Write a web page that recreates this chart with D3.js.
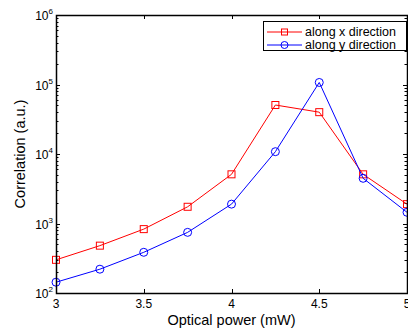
<!DOCTYPE html>
<html><head><meta charset="utf-8">
<script src="https://cdn.jsdelivr.net/npm/d3@7"></script>
<style>body{margin:0;background:#fff}svg{display:block;font-family:"Liberation Sans",Arial,sans-serif}</style>
</head><body>
<script>
const power = [3.0, 3.25, 3.5, 3.75, 4.0, 4.25, 4.5, 4.75, 5.0];
const alongX = [300, 480, 830, 1740, 5100, 50700, 40000, 5100, 1900];
const alongY = [143, 220, 385, 746, 1900, 10800, 107000, 4470, 1450];
const xTicks = [3, 3.5, 4, 4.5, 5];
const yTicks = [2, 3, 4, 5, 6];
const seriesNames = ["along x direction", "along y direction"];

const W = 408, H = 333;
const m = {l: 56, r: 1, t: 15, b: 40};
const svg = d3.select("body").append("svg").attr("width", W).attr("height", H);
const x = d3.scaleLinear().domain([3, 5]).range([m.l, W - m.r]);
const y = d3.scaleLog().domain([100, 1e6]).range([H - m.b, m.t]);

// minor/major ticks
const g = svg.append("g").attr("stroke", "#000").attr("stroke-width", 1);
const minor = [];
for (let e = 2; e < 6; e++) for (let k = 2; k <= 9; k++) minor.push(k * Math.pow(10, e));
minor.forEach(v => {
  const yy = Math.round(y(v)) + 0.5;
  g.append("line").attr("x1", m.l).attr("x2", m.l + 2.5).attr("y1", yy).attr("y2", yy);
  g.append("line").attr("x1", W - m.r).attr("x2", W - m.r - 2.5).attr("y1", yy).attr("y2", yy);
});
yTicks.forEach(e => {
  const yy = Math.round(y(Math.pow(10, e))) + 0.5;
  g.append("line").attr("x1", m.l).attr("x2", m.l + 4).attr("y1", yy).attr("y2", yy);
  g.append("line").attr("x1", W - m.r).attr("x2", W - m.r - 4).attr("y1", yy).attr("y2", yy);
});
xTicks.forEach(v => {
  const xx = Math.round(x(v)) + 0.5;
  g.append("line").attr("x1", xx).attr("x2", xx).attr("y1", H - m.b).attr("y2", H - m.b - 4);
  g.append("line").attr("x1", xx).attr("x2", xx).attr("y1", m.t).attr("y2", m.t + 4);
});

// data lines
const line = d3.line().x((d, i) => x(power[i])).y(d => y(d));
const series = [{v: alongX, c: "#ff0000", m: "sq"}, {v: alongY, c: "#0000ff", m: "ci"}];
series.forEach(s => {
  svg.append("path").attr("d", line(s.v)).attr("fill", "none").attr("stroke", s.c).attr("stroke-width", 1);
  s.v.forEach((d, i) => {
    if (s.m === "sq") svg.append("rect").attr("x", x(power[i]) - 3.5).attr("y", y(d) - 3.5).attr("width", 7).attr("height", 7)
      .attr("fill", "none").attr("stroke", s.c).attr("stroke-width", 1);
    else svg.append("circle").attr("cx", x(power[i])).attr("cy", y(d)).attr("r", 4)
      .attr("fill", "none").attr("stroke", s.c).attr("stroke-width", 1);
  });
});

// frame
svg.append("rect").attr("x", m.l + 0.5).attr("y", m.t + 0.5).attr("width", W - m.r - m.l).attr("height", H - m.b - m.t)
  .attr("fill", "none").attr("stroke", "#000").attr("stroke-width", 1.5);

// tick labels
xTicks.forEach(v => {
  svg.append("text").attr("x", x(v)).attr("y", H - m.b + 15).attr("text-anchor", "middle")
    .attr("font-size", 12).text(String(v));
});
yTicks.forEach(e => {
  const t = svg.append("text").attr("x", 53).attr("y", y(Math.pow(10, e)) + 5).attr("text-anchor", "end").attr("font-size", 12);
  t.append("tspan").text("10");
  t.append("tspan").attr("dy", -6).attr("font-size", 8).text(String(e));
});

// axis titles
svg.append("text").attr("x", x(4)).attr("y", 325).attr("text-anchor", "middle").attr("font-size", 14.5).text("Optical power (mW)");
svg.append("text").attr("transform", `translate(25,${(m.t + H - m.b) / 2}) rotate(-90)`).attr("text-anchor", "middle")
  .attr("font-size", 14.5).text("Correlation (a.u.)");

// legend
const lg = svg.append("g");
lg.append("rect").attr("x", 263.5).attr("y", 21.5).attr("width", 143).attr("height", 29)
  .attr("fill", "#fff").attr("stroke", "#000").attr("stroke-width", 1);
series.forEach((s, i) => {
  const yy = 32 + i * 13;
  lg.append("line").attr("x1", 267).attr("x2", 302).attr("y1", yy).attr("y2", yy).attr("stroke", s.c);
  if (s.m === "sq") lg.append("rect").attr("x", 281.5).attr("y", yy - 3).attr("width", 6).attr("height", 6).attr("fill", "none").attr("stroke", s.c);
  else lg.append("circle").attr("cx", 284.5).attr("cy", yy).attr("r", 3.5).attr("fill", "none").attr("stroke", s.c);
  lg.append("text").attr("x", 305).attr("y", yy + 4).attr("font-size", 12.5).text(seriesNames[i]);
});
</script>
</body></html>
